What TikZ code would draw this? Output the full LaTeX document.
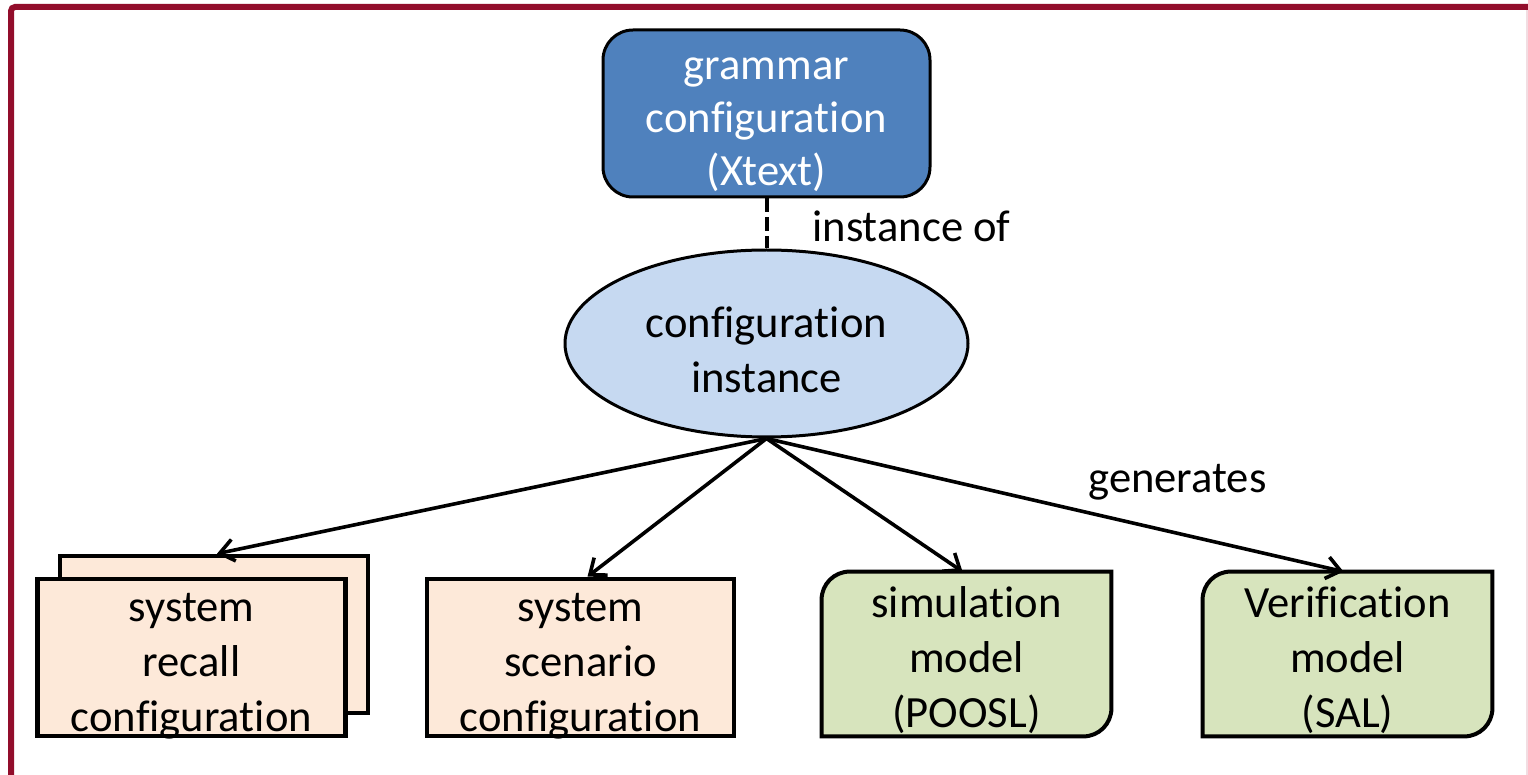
\documentclass[tikz,border=0pt]{standalone}
\usepackage{fontspec}
\setmainfont{Carlito}[Ligatures=NoCommon]
\usetikzlibrary{arrows.meta,shapes.geometric,calc,backgrounds}
\definecolor{framered}{HTML}{920D2B}
\definecolor{framepink}{HTML}{F2DDE2}
\definecolor{gblue}{HTML}{4F81BD}
\definecolor{lblue}{HTML}{C6D9F1}
\definecolor{lpink}{HTML}{FDE9D9}
\definecolor{lgreen}{HTML}{D7E4BD}
% struts fixing the top and bottom of a text block
\newcommand{\tstr}[1]{\rule{0pt}{#1}}
\newcommand{\bstr}[1]{\rule[-#1]{0pt}{#1}}
\tikzset{
  txt/.style={font=\fontsize{22.3}{27.5}\selectfont, align=center, inner xsep=0pt, inner ysep=-10pt},
  topbox/.style={txt, font=\fontsize{22.3}{26.5}\selectfont, rectangle, rounded corners=15pt,
    draw=black, line width=1.5pt, fill=gblue, text=white,
    minimum width=163.5pt, minimum height=83.5pt},
  ellbox/.style={txt, ellipse, draw=black, line width=1.5pt, fill=lblue,
    minimum width=201.5pt, minimum height=93.5pt},
  pinkbox/.style={txt, rectangle, draw=black, line width=2.3pt, fill=lpink,
    minimum width=154pt, minimum height=78.5pt},
  greenbox/.style={txt, rectangle, minimum width=144.5pt, minimum height=82pt},
  greenline/.style={draw=black, line width=2pt, fill=lgreen},
  conn/.style={line width=1.8pt, -{Straight Barb[length=7pt,width=11pt,line width=1.8pt]}},
  lbl/.style={font=\fontsize{22.3}{27.5}\selectfont, inner sep=0pt, anchor=base west}
}
\begin{document}
\begin{tikzpicture}[x=0.5pt,y=-0.5pt]
\useasboundingbox (0,0) rectangle (1528,775);
% frame
\draw[framered, line width=3pt, rounded corners=2pt] (11,775) -- (11,7) -- (1528,7);
\draw[framepink, line width=0.6pt] (1527,10) -- (1527,775);

% nodes
\node[topbox] (g) at (766.5,113.5)
  {\tstr{27.5pt}grammar\\configuration\\(Xtext)\bstr{8pt}};
\node[ellbox] (c) at (766.5,343.5)
  {\tstr{30pt}configuration\\instance\bstr{8pt}};

\node[pinkbox] (r0) at (214,634.5) {};
\node[pinkbox] (r1) at (191.5,657.5)
  {\tstr{26.5pt}system\\recall\\configuration\bstr{8pt}};
\node[pinkbox, minimum width=153.5pt] (s2) at (580.5,657.5)
  {\tstr{26.5pt}system\\scenario\\configuration\bstr{8pt}};

\node[greenbox] (m3) at (966.5,654)
  {\tstr{26.5pt}simulation\\model\\(POOSL)\bstr{8pt}};
\node[greenbox] (m4) at (1347.5,654)
  {\tstr{26.5pt}Verification\\model\\(SAL)\bstr{8pt}};

\begin{scope}[on background layer]
\foreach \n in {m3,m4}{
  \path[greenline] ([xshift=14pt]\n.north west) -- (\n.north east)
    -- ([yshift=14pt]\n.south east) arc[start angle=0,end angle=-90,radius=14pt]
    -- (\n.south west) -- ([yshift=-14pt]\n.north west)
    arc[start angle=180,end angle=90,radius=14pt] -- cycle;
}
\end{scope}

% labels
\node[lbl] (l1) at (812,241.5) {instance of};
\node[lbl] (l2) at (1088,493) {generates};

% connectors
\draw[line width=2pt, dash pattern=on 7pt off 2.5pt] (g.south) -- (c.north);
\draw[conn] (c.south) -- ([xshift=1.5pt]r0.north);
\draw[conn] (c.south) -- ([xshift=3.5pt]s2.north);
\draw[conn] (c.south) -- ([xshift=-2pt]m3.north);
\draw[conn] (c.south) -- ([xshift=-2pt]m4.north);
\end{tikzpicture}
\end{document}
